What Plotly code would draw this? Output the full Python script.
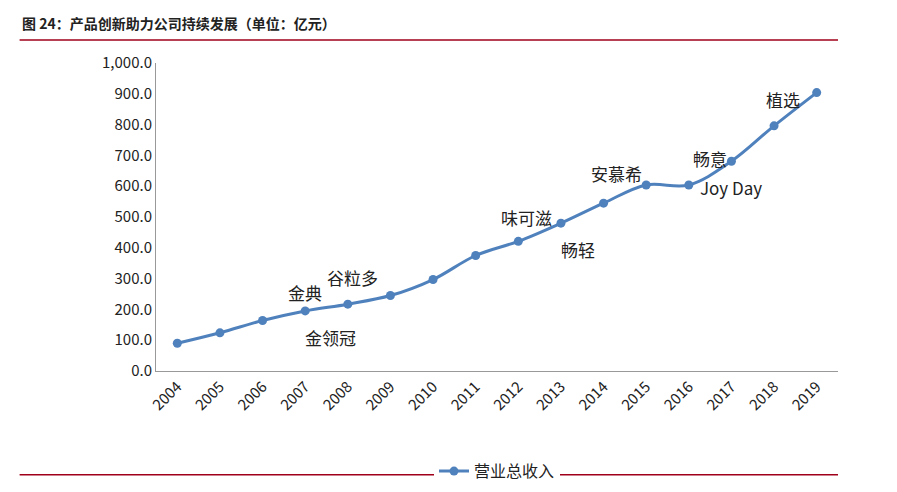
import plotly.graph_objects as go

years = [str(y) for y in range(2004, 2020)]
revenue = [90, 124, 164, 195, 217, 245, 297, 375, 421, 480, 545, 604, 604, 681, 796, 904]
tick_vals = [0, 100, 200, 300, 400, 500, 600, 700, 800, 900, 1000]
tick_text = ["0.0", "100.0", "200.0", "300.0", "400.0", "500.0", "600.0", "700.0", "800.0", "900.0", "1,000.0"]

# product labels: (text, x position on category axis, y position)
brands = [
    ("金典", 3.0, 255), ("金领冠", 3.6, 110), ("谷粒多", 4.1, 305),
    ("味可滋", 8.2, 500), ("畅轻", 9.4, 395), ("安慕希", 10.3, 640),
    ("畅意", 12.5, 690), ("Joy Day", 13.0, 595), ("植选", 14.2, 880),
]

fig = go.Figure()
fig.add_trace(go.Scatter(
    x=years, y=revenue, mode="lines+markers", name="营业总收入",
    line=dict(color="#4f81bd", width=3, shape="spline"),
    marker=dict(size=9, color="#4f81bd"),
))

for text, xp, y in brands:
    fig.add_annotation(x=xp, y=y, text=text, showarrow=False,
                       font=dict(size=17, color="#222"), xref="x", yref="y")

fig.add_annotation(x=-0.2, y=1.09, xref="paper", yref="paper", xanchor="left", yanchor="bottom",
                   text="<b>图 24：产品创新助力公司持续发展（单位：亿元）</b>", showarrow=False,
                   font=dict(size=14, color="#222"))

fig.update_layout(
    width=897, height=492,
    margin=dict(l=148, r=67, t=55, b=114),
    plot_bgcolor="white", paper_bgcolor="white",
    font=dict(family="Noto Sans CJK SC", size=15, color="#222"),
    showlegend=True,
    legend=dict(orientation="h", x=0.5, xanchor="center", y=-0.27, yanchor="top", font=dict(size=16)),
    xaxis=dict(type="category", tickangle=-45, showline=True, linecolor="#999", ticks="",
               range=[-0.5, 15.5], tickfont=dict(size=15)),
    yaxis=dict(range=[0, 1000], tickvals=tick_vals, ticktext=tick_text, showgrid=False,
               showline=True, linecolor="#999", tickfont=dict(size=15)),
    shapes=[
        dict(type="line", xref="paper", yref="paper", x0=-0.2, x1=1.0, y0=1.075, y1=1.075,
             line=dict(color="#a0001a", width=1.5)),
        dict(type="line", xref="paper", yref="paper", x0=-0.2, x1=1.0, y0=-0.337, y1=-0.337,
             line=dict(color="#a0001a", width=1.5)),
    ],
)
fig.write_html("out.html")
